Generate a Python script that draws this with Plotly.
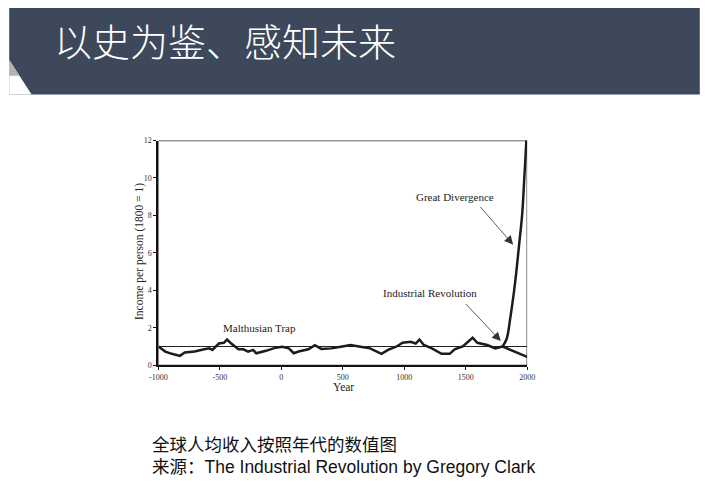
import plotly.graph_objects as go

# The page body keeps its default 8px margin, so the figure is sized to fit exactly
PAGE_W, PAGE_H = 708, 495
OFF = 8
W, H = PAGE_W - 2 * OFF, PAGE_H - 2 * OFF

# ---- data ----
years_main = [-1000, -944, -891, -825, -786, -706, -627, -587, -561, -534, -508, -468, -442,
              -415, -376, -349, -310, -270, -230, -204, -125, -45, 8, 61, 101, 140, 220, 273,
              325, 405, 484, 563, 643, 722, 815, 868, 934, 987, 1052, 1093, 1124, 1159, 1225,
              1304, 1370, 1410, 1476, 1516, 1556, 1595, 1675, 1741, 1800]
income_main = [1.0, 0.73, 0.61, 0.5, 0.68, 0.73, 0.85, 0.9, 0.82, 0.99, 1.16, 1.2, 1.37,
               1.2, 1.0, 0.85, 0.85, 0.73, 0.82, 0.64, 0.77, 0.94, 0.99, 0.9, 0.64, 0.73, 0.85, 1.07,
               0.87, 0.9, 0.99, 1.08, 0.99, 0.9, 0.61, 0.82, 0.99, 1.2, 1.25, 1.16, 1.37, 1.08, 0.9,
               0.61, 0.61, 0.85, 1.0, 1.25, 1.47, 1.2, 1.08, 0.9, 1.0]

years_rich = [1800, 1833, 1860, 1900, 1934, 1960, 1976, 1992, 2000]
income_rich = [1.0, 1.4, 2.4, 4.3, 6.4, 8.1, 9.9, 11.8, 13.0]

years_poor = [1800, 1850, 1900, 1950, 2000]
income_poor = [1.0, 0.86, 0.72, 0.58, 0.45]

ref_years = [-1000, 2000]
ref_level = [1, 1]

x_ticks = [-1000, -500, 0, 500, 1000, 1500, 2000]
x_ticklabels = ["-1000", "-500", "0", "500", "1000", "1500", "2000"]
y_ticks = [0, 2, 4, 6, 8, 10, 12]

title_text = "以史为鉴、感知未来"
caption1 = "全球人均收入按照年代的数值图"
caption2 = "来源：The Industrial Revolution by Gregory Clark"

# ---- helpers: page pixel -> paper fraction ----
def px(x):
    return (x - OFF) / W

def py(y):
    return 1 - (y - OFF) / H

LINE = "#1c1c1c"
SERIF = "Liberation Serif, Times New Roman, serif"

fig = go.Figure()
fig.add_trace(go.Scatter(x=ref_years, y=ref_level, mode="lines",
                         line=dict(color="#222", width=1), hoverinfo="skip"))
fig.add_trace(go.Scatter(x=years_main, y=income_main, mode="lines",
                         line=dict(color=LINE, width=2.5)))
fig.add_trace(go.Scatter(x=years_rich, y=income_rich, mode="lines",
                         line=dict(color=LINE, width=2.5, shape="spline")))
fig.add_trace(go.Scatter(x=years_poor, y=income_poor, mode="lines",
                         line=dict(color=LINE, width=2.5)))

fig.update_xaxes(range=[-1000, 2000], domain=[px(153), px(531)], showline=True,
                 linewidth=2, linecolor="#111", ticks="outside", ticklen=3, tickwidth=1,
                 tickcolor="#111", tickvals=x_ticks, ticktext=x_ticklabels,
                 showgrid=False, zeroline=False,
                 tickfont=dict(family=SERIF, size=8, color="#333"))
fig.update_yaxes(range=[0, 12], domain=[py(368), py(139)], showline=True,
                 linewidth=2, linecolor="#111", ticks="outside", ticklen=3, tickwidth=1,
                 tickcolor="#111", tickvals=y_ticks, showgrid=False, zeroline=False,
                 tickfont=dict(family=SERIF, size=8, color="#333"))

shapes = [
    dict(type="rect", xref="paper", yref="paper", x0=px(0), x1=px(708), y0=py(92), y1=py(0),
         fillcolor="#3d485b", line=dict(width=0), layer="below"),
    dict(type="path", xref="paper", yref="paper",
         path=f"M {px(0)},{py(57)} L {px(23)},{py(92)} L {px(0)},{py(92)} Z",
         fillcolor="white", line=dict(width=0), layer="below"),
    dict(type="path", xref="paper", yref="paper",
         path=f"M {px(0)},{py(57)} L {px(10.6)},{py(73)} L {px(0)},{py(73)} Z",
         fillcolor="#b3b3b3", line=dict(width=0), layer="below"),
    dict(type="rect", xref="x", yref="y", x0=-1000, x1=2000, y0=0, y1=12,
         line=dict(color="#333", width=1.2), layer="below"),
]

annotations = [
    dict(text=title_text, xref="paper", yref="paper", x=px(44), y=py(36),
         xanchor="left", yanchor="middle", showarrow=False,
         font=dict(family="Noto Sans CJK SC", size=38, color="white", weight=300)),
    dict(text="Income per person (1800 = 1)", xref="paper", yref="paper",
         x=px(125), y=py(252), textangle=-90, showarrow=False,
         font=dict(family=SERIF, size=11.5, color="#222")),
    dict(text="Year", xref="paper", yref="paper", x=px(343), y=py(398),
         showarrow=False, font=dict(family=SERIF, size=11.5, color="#222")),
    dict(text="Malthusian Trap", xref="x", yref="y", x=-177, y=1.99, showarrow=False,
         font=dict(family=SERIF, size=11, color="#222")),
    dict(text="Industrial Revolution", xref="x", yref="y", x=1212, y=3.86, showarrow=False,
         font=dict(family=SERIF, size=11, color="#222")),
    dict(text="Great Divergence", xref="x", yref="y", x=1415, y=8.97, showarrow=False,
         font=dict(family=SERIF, size=11, color="#222")),
    dict(text="", xref="x", yref="y", x=1786, y=1.29, ax=1490, ay=3.35,
         axref="x", ayref="y", showarrow=True, arrowhead=2, arrowsize=2.2,
         arrowwidth=0.8, arrowcolor="#333"),
    dict(text="", xref="x", yref="y", x=1886, y=6.44, ax=1609, ay=8.53,
         axref="x", ayref="y", showarrow=True, arrowhead=2, arrowsize=2.2,
         arrowwidth=0.8, arrowcolor="#333"),
    dict(text=caption1, xref="paper", yref="paper", x=px(144), y=py(448),
         xanchor="left", yanchor="middle", showarrow=False,
         font=dict(family="Noto Sans CJK SC", size=17.5, color="#111")),
    dict(text=caption2, xref="paper", yref="paper", x=px(144), y=py(472),
         xanchor="left", yanchor="middle", showarrow=False,
         font=dict(family="Liberation Sans, Noto Sans CJK SC", size=17.5, color="#111")),
]

fig.update_layout(width=W, height=H, margin=dict(l=0, r=0, t=0, b=0),
                  paper_bgcolor="white", plot_bgcolor="white", showlegend=False,
                  shapes=shapes, annotations=annotations)

fig.write_html("out.html", config={"displayModeBar": False})
